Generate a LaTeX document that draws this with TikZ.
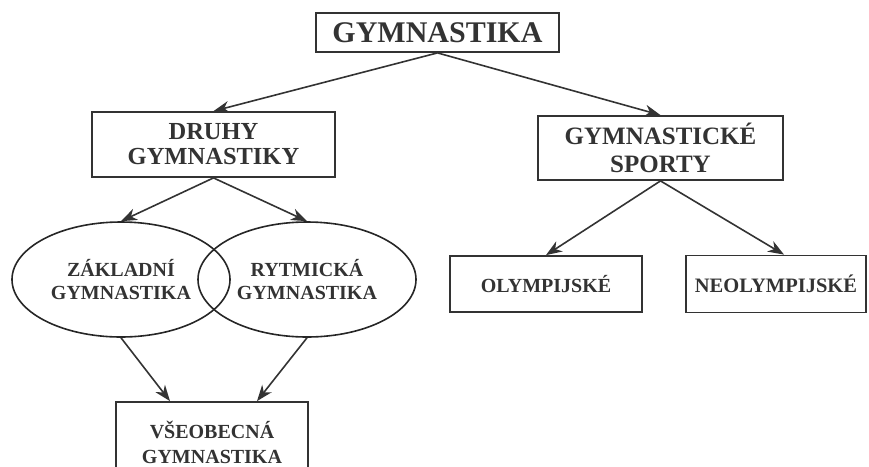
\documentclass[tikz,border=0pt]{standalone}
\usepackage{fontspec}
\setmainfont{Liberation Serif}
\usepackage{tikz}
\usetikzlibrary{positioning, arrows.meta}
\usetikzlibrary{shapes,shapes.geometric}
\usepackage{xcolor}

\begin{document}
\begin{tikzpicture}[x=1pt, y=-1pt, on grid, every node/.style={text=black!80, font=\bfseries},
		box/.style={draw=black!80, line width=1.8pt, rectangle, align=center, inner sep=0pt},
		oval/.style={draw=black!85, line width=1.6pt, ellipse, align=center, inner sep=0pt,
			minimum width=218pt, minimum height=115pt, font=\bfseries\fontsize{20}{23}\selectfont},
		arr/.style={draw=black!80, line width=1.6pt, -{Stealth[length=16pt, width=12pt, inset=5pt]}}]
			\useasboundingbox (0,0) rectangle (869,466);
			\node[box, minimum width=243pt, minimum height=39pt, font=\bfseries\fontsize{30}{30}\selectfont] (gym) at (437.5,32.5) {GYMNASTIKA};
			\node[box, minimum width=243pt, minimum height=65pt, font=\bfseries\fontsize{24.5}{25}\selectfont, below left=112pt and 224pt of gym] (druhy) {DRUHY\\GYMNASTIKY};
			\node[box, minimum width=245pt, minimum height=64pt, font=\bfseries\fontsize{25}{28}\selectfont, below right=115.5pt and 223pt of gym] (sporty) {GYMNASTICKÉ\\SPORTY};
			\node[oval, below left=135pt and 92.5pt of druhy] (zakl) {ZÁKLADNÍ\\GYMNASTIKA};
			\node[oval, right=186pt of zakl] (rytm) {RYTMICKÁ\\GYMNASTIKA};
			\node[box, minimum width=192pt, minimum height=56pt, font=\bfseries\fontsize{20}{20}\selectfont, below left=136pt and 114.5pt of sporty] (olymp) {OLYMPIJSKÉ};
			\node[box, minimum width=180pt, minimum height=57pt, font=\bfseries\fontsize{20.5}{20}\selectfont, right=230pt of olymp] (neo) {NEOLYMPIJSKÉ};
			\node[box, minimum width=192pt, minimum height=80pt, font=\bfseries\fontsize{20}{25}\selectfont, below right=162.5pt and 91pt of zakl] (vseob) {VŠEOBECNÁ\\GYMNASTIKA};
			
			
			\draw[arr] (gym.south) -- (druhy.north);
			\draw[arr] (gym.south) -- (sporty.north);
			\draw[arr] (druhy.south) -- (zakl.north);
			\draw[arr] (druhy.south) -- (rytm.north);
			\draw[arr] (sporty.south) -- (olymp.north);
			\draw[arr] (sporty.south) -- ([xshift=8pt]neo.north);
			\draw[arr] (zakl.south) -- ([xshift=-42pt]vseob.north);
			\draw[arr] (rytm.south) -- ([xshift=45pt]vseob.north);
			
		\end{tikzpicture}
\end{document}
